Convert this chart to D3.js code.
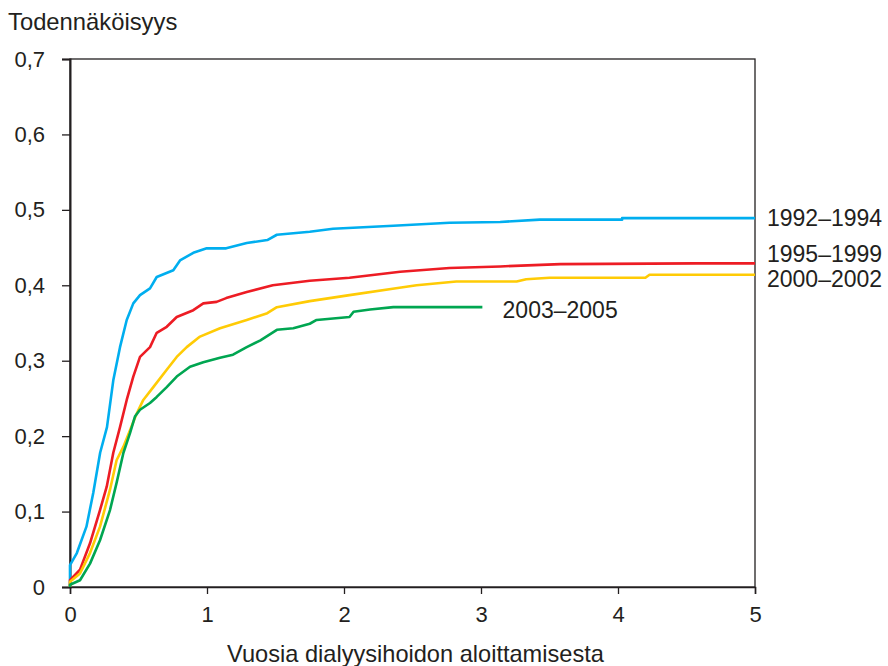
<!DOCTYPE html>
<html>
<head>
<meta charset="utf-8">
<script src="https://cdn.jsdelivr.net/npm/d3@7"></script>
<style>
  html, body { margin: 0; padding: 0; background: #fff; }
  svg text { font-family: "Liberation Sans", Arial, sans-serif; fill: #231f20; }
</style>
</head>
<body>
<div id="chart"></div>
<script>
// Kumulatiivinen todennäköisyys, luettu kuvasta (vuosia, todennäköisyys)
const xTicks = [0, 1, 2, 3, 4, 5];
const yTicks = [0, 0.1, 0.2, 0.3, 0.4, 0.5, 0.6, 0.7];

const t9294 = [0, 0, 0.05, 0.12, 0.17, 0.22, 0.27, 0.316, 0.365, 0.414, 0.462, 0.511, 0.584, 0.633, 0.754, 0.803, 0.9, 0.998, 1.14, 1.29, 1.44, 1.51, 1.75, 1.92, 2.36, 2.77, 3.14, 3.43, 4.03, 4.03, 5];
const v9294 = [0, 0.029, 0.045, 0.080, 0.125, 0.178, 0.212, 0.274, 0.318, 0.354, 0.376, 0.387, 0.396, 0.411, 0.420, 0.433, 0.443, 0.449, 0.449, 0.456, 0.460, 0.467, 0.471, 0.475, 0.479, 0.483, 0.484, 0.487, 0.487, 0.489, 0.489];

const t9599 = [0, 0, 0.073, 0.146, 0.219, 0.268, 0.316, 0.365, 0.414, 0.462, 0.511, 0.584, 0.633, 0.706, 0.779, 0.9, 0.973, 1.07, 1.14, 1.29, 1.48, 1.75, 2.04, 2.41, 2.77, 3.14, 3.58, 4.57, 5];
const v9599 = [0, 0.009, 0.023, 0.058, 0.102, 0.133, 0.178, 0.212, 0.248, 0.279, 0.305, 0.318, 0.337, 0.345, 0.358, 0.367, 0.376, 0.378, 0.383, 0.391, 0.400, 0.406, 0.410, 0.418, 0.423, 0.425, 0.428, 0.429, 0.429];

const t0002 = [0, 0, 0.073, 0.146, 0.219, 0.292, 0.34, 0.39, 0.438, 0.487, 0.535, 0.608, 0.706, 0.779, 0.852, 0.949, 1.095, 1.29, 1.44, 1.51, 1.75, 2.04, 2.38, 2.53, 2.82, 3.26, 3.33, 3.5, 4.2, 4.23, 5];
const v0002 = [0, 0.007, 0.018, 0.045, 0.080, 0.129, 0.168, 0.186, 0.208, 0.230, 0.248, 0.265, 0.288, 0.305, 0.318, 0.332, 0.343, 0.354, 0.363, 0.371, 0.379, 0.387, 0.396, 0.400, 0.405, 0.405, 0.408, 0.410, 0.410, 0.414, 0.414];

const t0305 = [0, 0, 0.073, 0.146, 0.219, 0.292, 0.34, 0.39, 0.438, 0.474, 0.511, 0.584, 0.633, 0.706, 0.779, 0.876, 0.973, 1.095, 1.19, 1.29, 1.39, 1.51, 1.63, 1.75, 1.8, 2.04, 2.07, 2.19, 2.36, 3.01];
const v0305 = [0, 0.003, 0.009, 0.031, 0.062, 0.102, 0.138, 0.178, 0.204, 0.226, 0.235, 0.244, 0.252, 0.265, 0.279, 0.292, 0.298, 0.304, 0.308, 0.318, 0.327, 0.341, 0.343, 0.349, 0.354, 0.358, 0.365, 0.368, 0.371, 0.371];

const seriesNames = ['1992–1994', '1995–1999', '2000–2002', '2003–2005'];
const seriesColors = ['#00aeef', '#ed1c24', '#ffcb05', '#00a651'];
const seriesTimes = [t9294, t9599, t0002, t0305];
const seriesValues = [v9294, v9599, v0002, v0305];
// nimikkeiden paikat datayksiköissä (vuosi, todennäköisyys)
const labelT = [5, 5, 5, 3.07];
const labelV = [0.489, 0.4415, 0.408, 0.367];

const W = 888, H = 666;
const margin = { top: 59, right: 133, bottom: 79, left: 70 };
const iw = W - margin.left - margin.right;
const ih = H - margin.top - margin.bottom;

const svg = d3.select('#chart').append('svg')
  .attr('width', W).attr('height', H);

const x = d3.scaleLinear().domain([0, 5]).range([margin.left, margin.left + iw]);
const y = d3.scaleLinear().domain([0, 0.7]).range([margin.top + ih, margin.top]);

const fmt = d => d === 0 ? '0' : d3.format('.1f')(d).replace('.', ',');

// kehys
svg.append('rect')
  .attr('x', x(0)).attr('y', y(0.7))
  .attr('width', x(5) - x(0)).attr('height', y(0) - y(0.7))
  .attr('fill', 'none').attr('stroke', '#231f20').attr('stroke-width', 1.3);

const yAxis = svg.append('g')
  .attr('transform', `translate(${x(0)},0)`)
  .call(d3.axisLeft(y).tickValues(yTicks).tickFormat(fmt).tickSize(8).tickPadding(17));
yAxis.select('.domain').attr('stroke', '#231f20').attr('stroke-width', 2);
yAxis.selectAll('.tick line').attr('stroke', '#231f20').attr('stroke-width', 1.3);
yAxis.selectAll('text').attr('font-size', 22).attr('fill', '#231f20')
  .attr('font-family', '"Liberation Sans", Arial, sans-serif');

const xAxis = svg.append('g')
  .attr('transform', `translate(0,${y(0)})`)
  .call(d3.axisBottom(x).tickValues(xTicks).tickFormat(d3.format('d')).tickSize(7).tickPadding(12));
xAxis.select('.domain').attr('stroke', '#231f20').attr('stroke-width', 1.5);
xAxis.selectAll('.tick line').attr('stroke', '#231f20').attr('stroke-width', 1.3);
xAxis.selectAll('text').attr('font-size', 22).attr('fill', '#231f20')
  .attr('font-family', '"Liberation Sans", Arial, sans-serif');

const line = d3.line()
  .x(d => x(d[0]))
  .y(d => y(d[1]));

const plot = svg.append('g');
seriesNames.forEach((name, i) => {
  const pts = seriesTimes[i].map((t, j) => [t, seriesValues[i][j]]);
  plot.append('path')
    .datum(pts)
    .attr('d', line)
    .attr('fill', 'none')
    .attr('stroke', seriesColors[i])
    .attr('stroke-width', 2.6)
    .attr('stroke-linejoin', 'round');
});

// sarjojen nimet
svg.append('g').selectAll('text')
  .data(seriesNames).join('text')
  .attr('x', (d, i) => x(labelT[i]) + 12)
  .attr('y', (d, i) => y(labelV[i]))
  .attr('dy', '0.35em')
  .attr('font-size', 23)
  .text(d => d);

svg.append('text')
  .attr('x', 8).attr('y', 30)
  .attr('font-size', 23.8)
  .text('Todennäköisyys');

svg.append('text')
  .attr('x', (x(0) + x(5)) / 2 + 3).attr('y', 662)
  .attr('text-anchor', 'middle')
  .attr('font-size', 23.6)
  .text('Vuosia dialyysihoidon aloittamisesta');
</script>
</body>
</html>
